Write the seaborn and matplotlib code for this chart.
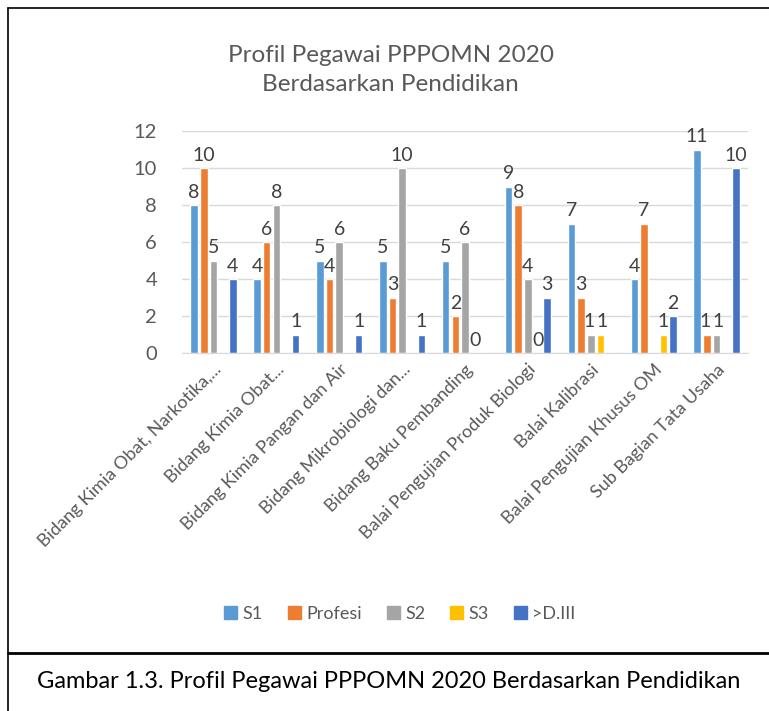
import numpy as np
import pandas as pd
import matplotlib.pyplot as plt
import seaborn as sns
from matplotlib.patches import Rectangle
from matplotlib.lines import Line2D

categories = [
    "Bidang Kimia Obat, Narkotika,...",
    "Bidang Kimia Obat...",
    "Bidang Kimia Pangan dan Air",
    "Bidang Mikrobiologi dan...",
    "Bidang Baku Pembanding",
    "Balai Pengujian Produk Biologi",
    "Balai Kalibrasi",
    "Balai Pengujian Khusus OM",
    "Sub Bagian Tata Usaha",
]
series = ["S1", "Profesi", "S2", "S3", ">D.III"]
s1 = [8, 4, 5, 5, 5, 9, 7, 4, 11]
profesi = [10, 6, 4, 3, 2, 8, 3, 7, 1]
s2 = [5, 8, 6, 10, 6, 4, 1, None, 1]
s3 = [None, None, None, None, 0, 0, 1, 1, None]
d3 = [4, 1, 1, 1, None, 3, None, 2, 10]
colors = ["#5B9BD5", "#ED7D31", "#A5A5A5", "#FFC000", "#4472C4"]

values = dict(zip(series, [s1, profesi, s2, s3, d3]))
rows = []
for s in series:
    for c, v in zip(categories, values[s]):
        rows.append({"cat": c, "series": s, "val": 0 if v is None else v})
df = pd.DataFrame(rows)

sns.set_style("white")
plt.rcParams["font.family"] = ["Lato", "DejaVu Sans"]
text_c = "#595959"

fig = plt.figure(figsize=(7.69, 7.11), dpi=100)
ax = fig.add_axes([0.2367, 0.5035, 0.736, 0.3122])

sns.barplot(data=df, x="cat", y="val", hue="series", palette=colors,
            order=categories, hue_order=series, width=0.77, gap=0.22,
            ax=ax, legend=False, saturation=1)

all_labels = []
for cont, s in zip(ax.containers, series):
    labs = ["" if v is None else str(v) for v in values[s]]
    all_labels += [t for t in ax.bar_label(cont, labels=labs, padding=3,
                                           fontsize=14, color="#404040")
                   if t.get_text()]

ax.set_ylim(0, 12)
ax.set_yticks(range(0, 13, 2))
ax.set_xlim(-0.5, len(categories) - 0.5)
ax.yaxis.grid(True, color="#D9D9D9", linewidth=1)
ax.set_axisbelow(True)
for sp in ["top", "right", "left"]:
    ax.spines[sp].set_visible(False)
ax.spines["bottom"].set_color("#D9D9D9")
ax.set_xlabel("")
ax.set_ylabel("")
ax.tick_params(axis="y", length=0, labelsize=14.5, labelcolor=text_c, pad=18)
ax.tick_params(axis="x", length=0, labelsize=13, labelcolor=text_c, pad=6)
plt.setp(ax.get_xticklabels(), rotation=45, ha="right", rotation_mode="anchor")

fig.text(0.508, 1 - 70 / 711, "Profil Pegawai PPPOMN 2020\nBerdasarkan Pendidikan",
         ha="center", va="center", fontsize=17.5, color=text_c, linespacing=1.45)

handles = [Rectangle((0, 0), 1, 1, color=c) for c in colors]
fig.legend(handles, series, loc="center", bbox_to_anchor=(0.52, 0.137),
           ncol=5, frameon=False, fontsize=13, labelcolor=text_c,
           handlelength=0.7, handleheight=0.7, handletextpad=0.3,
           columnspacing=1.4)

# push apart value labels that touch (the "1 1" pairs)
fig.canvas.draw()
rend = fig.canvas.get_renderer()
boxes = [t.get_window_extent(rend) for t in all_labels]
for i, a in enumerate(all_labels):
    for j, b in enumerate(all_labels):
        ba, bb = boxes[i], boxes[j]
        if i != j and ba.x0 < bb.x0 and ba.overlaps(bb):
            shift = ((ba.x1 - bb.x0) / 2 + 1) * 72 / fig.dpi
            a.xyann = (a.xyann[0] - shift, a.xyann[1])
            b.xyann = (b.xyann[0] + shift, b.xyann[1])

# frame around chart and caption box
fig.add_artist(Line2D([8 / 769, 1], [1 - 8 / 711] * 2, transform=fig.transFigure,
                      color="black", linewidth=1.2))
fig.add_artist(Line2D([8 / 769] * 2, [0, 1 - 8 / 711], transform=fig.transFigure,
                      color="black", linewidth=1.2))
fig.add_artist(Line2D([8 / 769, 1], [1 - 653 / 711] * 2, transform=fig.transFigure,
                      color="black", linewidth=2))
fig.text(0.505, 1 - 681 / 711,
         "Gambar 1.3. Profil Pegawai PPPOMN 2020 Berdasarkan Pendidikan",
         ha="center", va="center", fontsize=17, color="black")

fig.savefig("out.png", dpi=100)
